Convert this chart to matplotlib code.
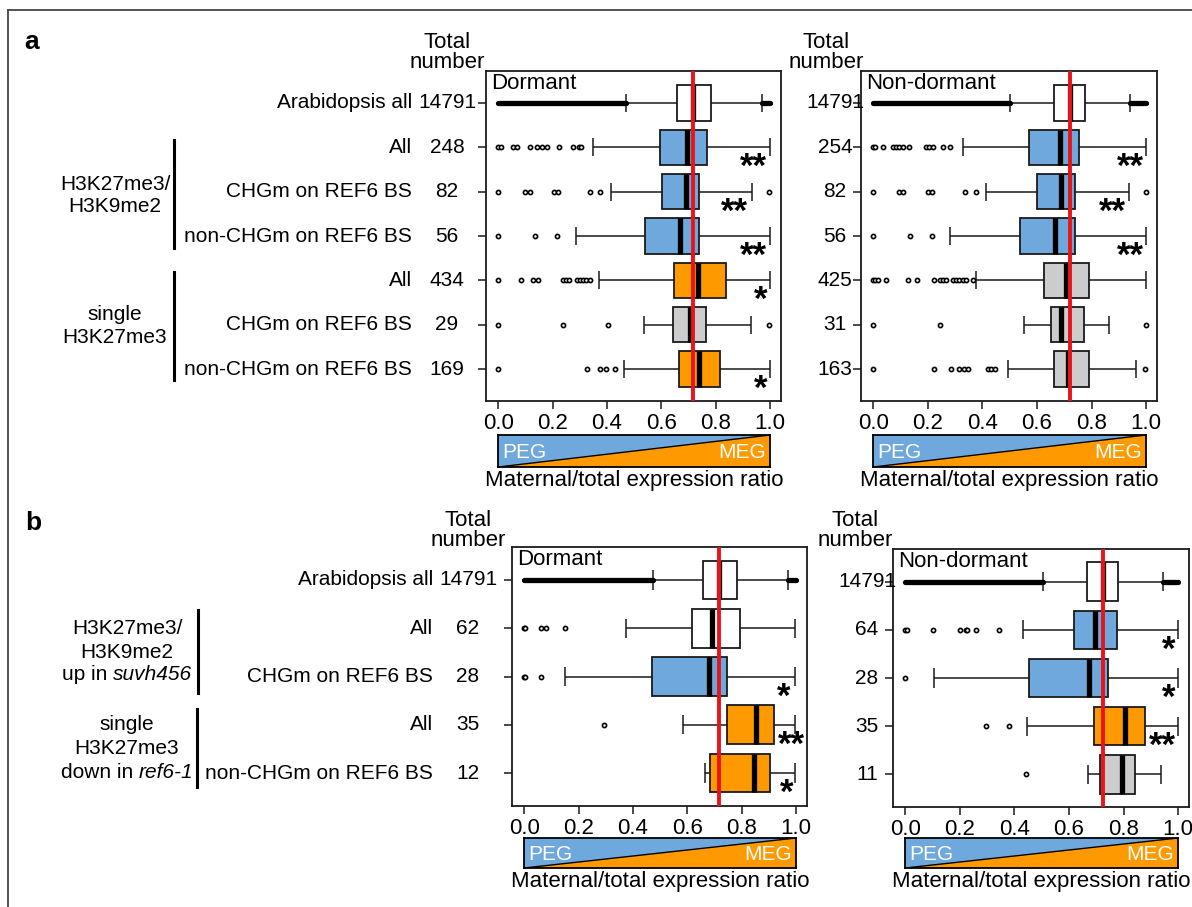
#!/usr/bin/env python
import matplotlib
matplotlib.use('Agg')
import matplotlib.pyplot as plt
import numpy as np
from matplotlib import rcParams
from matplotlib.lines import Line2D
from matplotlib.transforms import blended_transform_factory

rcParams['font.family'] = ['Liberation Sans', 'DejaVu Sans']
rcParams['font.size'] = 15

BLUE = '#6fa8dc'
ORANGE = '#ff9900'
GRAY = '#cccccc'
WHITE = '#ffffff'
RED = '#e8141b'
EDGE = '#1a1a1a'

# ---------------- panel a ----------------
a_labels = ['Arabidopsis all', 'All', 'CHGm on REF6 BS', 'non-CHGm on REF6 BS',
            'All', 'CHGm on REF6 BS', 'non-CHGm on REF6 BS']
a_dorm_n = [14791, 248, 82, 56, 434, 29, 169]
a_nond_n = [14791, 254, 82, 56, 425, 31, 163]

a_dorm_col = [WHITE, BLUE, BLUE, BLUE, ORANGE, GRAY, ORANGE]
a_dorm_q1 = [0.657, 0.596, 0.602, 0.540, 0.645, 0.643, 0.664]
a_dorm_med = [0.716, 0.694, 0.689, 0.667, 0.734, 0.706, 0.740]
a_dorm_q3 = [0.781, 0.769, 0.740, 0.740, 0.838, 0.764, 0.816]
a_dorm_wlo = [0.471, 0.349, 0.413, 0.286, 0.371, 0.535, 0.462]
a_dorm_whi = [0.969, 1.0, 0.935, 1.0, 1.0, 0.928, 1.0]
a_dorm_fliers = [
    [],
    [0.0, 0.01, 0.056, 0.07, 0.117, 0.144, 0.162, 0.178, 0.223, 0.276, 0.297, 0.303],
    [0.0, 0.099, 0.117, 0.205, 0.221, 0.337, 0.374, 0.996],
    [0.0, 0.136, 0.217],
    [0.0, 0.083, 0.127, 0.148, 0.237, 0.249, 0.261, 0.288, 0.30, 0.312, 0.324, 0.337],
    [0.0, 0.239, 0.402, 0.996],
    [0.0, 0.327, 0.376, 0.396, 0.429],
]
a_dorm_dense = [(0.0, 0.471), (0.969, 1.0)]
a_dorm_stars = ['', '**', '**', '**', '*', '', '*']
a_dorm_star_x = [0, 0.94, 0.87, 0.94, 0.967, 0, 0.967]

a_nond_col = [WHITE, BLUE, BLUE, BLUE, GRAY, GRAY, GRAY]
a_nond_q1 = [0.664, 0.571, 0.600, 0.539, 0.625, 0.651, 0.662]
a_nond_med = [0.721, 0.686, 0.689, 0.667, 0.708, 0.688, 0.714]
a_nond_q3 = [0.777, 0.755, 0.740, 0.740, 0.792, 0.772, 0.792]
a_nond_wlo = [0.50, 0.328, 0.412, 0.282, 0.377, 0.551, 0.495]
a_nond_whi = [0.941, 1.0, 0.936, 1.0, 1.0, 0.865, 0.963]
a_nond_fliers = [
    [],
    [0.0, 0.008, 0.034, 0.071, 0.083, 0.096, 0.108, 0.132, 0.194, 0.206, 0.218, 0.255, 0.282],
    [0.0, 0.096, 0.108, 0.20, 0.216, 0.338, 0.375, 0.998],
    [0.0, 0.135, 0.216],
    [0.0, 0.008, 0.016, 0.047, 0.126, 0.159, 0.224, 0.243, 0.255, 0.267, 0.292, 0.304,
     0.316, 0.33, 0.34, 0.365],
    [0.0, 0.243, 0.998],
    [0.0, 0.221, 0.286, 0.316, 0.331, 0.347, 0.42, 0.433, 0.445, 0.996],
]
a_nond_dense = [(0.0, 0.50), (0.941, 1.0)]
a_nond_stars = ['', '**', '**', '**', '', '', '']
a_nond_star_x = [0, 0.941, 0.875, 0.941, 0, 0, 0]

# ---------------- panel b ----------------
b_labels = ['Arabidopsis all', 'All', 'CHGm on REF6 BS', 'All', 'non-CHGm on REF6 BS']
b_dorm_n = [14791, 62, 28, 35, 12]
b_nond_n = [14791, 64, 28, 35, 11]

b_dorm_col = [WHITE, WHITE, BLUE, ORANGE, ORANGE]
b_dorm_q1 = [0.659, 0.617, 0.471, 0.747, 0.685]
b_dorm_med = [0.717, 0.690, 0.678, 0.853, 0.846]
b_dorm_q3 = [0.784, 0.792, 0.744, 0.919, 0.904]
b_dorm_wlo = [0.474, 0.374, 0.149, 0.583, 0.666]
b_dorm_whi = [0.970, 0.996, 0.996, 0.996, 0.996]
b_dorm_fliers = [[], [0.0, 0.004, 0.061, 0.079, 0.149], [0.0, 0.004, 0.061], [0.294], []]
b_dorm_dense = [(0.0, 0.474), (0.970, 1.0)]
b_dorm_stars = ['', '', '*', '**', '*']
b_dorm_star_x = [0, 0, 0.955, 0.982, 0.967]

b_nond_col = [WHITE, BLUE, BLUE, ORANGE, GRAY]
b_nond_q1 = [0.667, 0.617, 0.453, 0.691, 0.715]
b_nond_med = [0.725, 0.697, 0.674, 0.806, 0.794]
b_nond_q3 = [0.779, 0.775, 0.743, 0.877, 0.841]
b_nond_wlo = [0.504, 0.431, 0.106, 0.445, 0.669]
b_nond_whi = [0.945, 0.999, 1.0, 1.0, 0.937]
b_nond_fliers = [[], [0.0, 0.008, 0.103, 0.2, 0.221, 0.227, 0.261, 0.342], [0.0],
                 [0.297, 0.382], [0.443]]
b_nond_dense = [(0.0, 0.504), (0.945, 1.0)]
b_nond_stars = ['', '*', '*', '**', '']
b_nond_star_x = [0, 0.964, 0.964, 0.944, 0]

x_ticks = [0.0, 0.2, 0.4, 0.6, 0.8, 1.0]

W, H = 1192, 907
fig = plt.figure(figsize=(W / 100, H / 100), dpi=100)


def fx(x):
  return x / W


def fy(y):
  return 1 - y / H


def draw_panel(box, title, col, q1, med, q3, wlo, whi, fliers, dense, stars, star_x,
               ylim, bar_px):
  # box = (left, top, right, bottom) in pixels
  l, t, r, b = box
  ax = fig.add_axes([fx(l), fy(b), (r - l) / W, (b - t) / H])
  rows = np.arange(1, len(q1) + 1)
  ax.hlines(rows, wlo, q1, color=EDGE, lw=1.1, zorder=2)
  ax.hlines(rows, q3, whi, color=EDGE, lw=1.1, zorder=2)
  ax.vlines(wlo, rows - 0.2, rows + 0.2, color=EDGE, lw=1.1, zorder=2)
  ax.vlines(whi, rows - 0.2, rows + 0.2, color=EDGE, lw=1.1, zorder=2)
  ax.barh(rows, np.subtract(q3, q1), left=q1, height=0.8, color=col,
          edgecolor=EDGE, linewidth=1.3, zorder=3)
  ax.vlines(med, rows - 0.4, rows + 0.4, color='black', lw=3.8, zorder=4)
  for row, f in zip(rows, fliers):
    if f:
      ax.plot(f, [row] * len(f), 'o', ms=3.0, mfc='white', mec='black', mew=1.2,
              zorder=3)
  for lo, hi in dense:
    ax.hlines(1, lo, hi, color='black', lw=3.8, capstyle='round', zorder=3)
  ax.axvline(med[0], color=RED, lw=2.8, zorder=5)
  for row, s, x in zip(rows, stars, star_x):
    if s:
      ax.annotate(s, xy=(x, row), xytext=(0, -21.5), textcoords='offset points',
                  ha='center', va='baseline', fontsize=25, fontweight='bold', zorder=6)
  ax.set_xlim(-0.045, 1.04)
  ax.set_ylim(ylim)
  ax.set_xticks(x_ticks)
  ax.set_xticklabels(['%.1f' % v for v in x_ticks])
  ax.set_yticks(rows)
  ax.set_yticklabels([])
  ax.tick_params(length=6, width=1.1, pad=2.5, labelsize=16, color=EDGE)
  for s in ax.spines.values():
    s.set_linewidth(1.3)
    s.set_color(EDGE)
  ax.annotate(title, xy=(0, 1), xycoords='axes fraction', xytext=(3.5, -1.5),
              textcoords='offset points', ha='left', va='top', fontsize=16)

  # PEG / MEG bar under the axis
  bt, bb = bar_px
  tr = blended_transform_factory(ax.transData, ax.transAxes)
  y0 = (b - bb) / (b - t)
  hh = (bb - bt) / (b - t)
  bar = ax.inset_axes([0, y0, 1, hh], transform=tr)
  bar.fill([0, 0, 1], [0, 1, 1], color=BLUE, lw=0)
  bar.fill([0, 1, 1], [0, 0, 1], color=ORANGE, lw=0)
  bar.plot([0, 1], [0, 1], color='black', lw=1)
  bar.set_xlim(0, 1)
  bar.set_ylim(0, 1)
  bar.set_xticks([])
  bar.set_yticks([])
  for s in bar.spines.values():
    s.set_linewidth(1.3)
  bar.annotate('PEG', xy=(0, 0.5), xycoords='axes fraction', xytext=(3, -1),
               textcoords='offset points', ha='left', va='center', color='white',
               fontsize=15)
  bar.annotate('MEG', xy=(1, 0.5), xycoords='axes fraction', xytext=(-3, -1),
               textcoords='offset points', ha='right', va='center', color='white',
               fontsize=15)
  bar.annotate('Maternal/total expression ratio', xy=(0.5, 0), xycoords='axes fraction',
               xytext=(0, -2.5), textcoords='offset points', ha='center', va='top',
               fontsize=16)
  return ax


def row_labels(ax, labels, ns, lab_x, num_x):
  tr = blended_transform_factory(fig.transFigure, ax.transData)
  for i, n in enumerate(ns):
    if labels is not None:
      ax.text(fx(lab_x), i + 1, labels[i], transform=tr, ha='right', va='center')
    ax.text(fx(num_x), i + 1, str(n), transform=tr, ha='center', va='center')


def total_header(xc, y1, y2):
  fig.text(fx(xc), fy(y1), 'Total', ha='center', va='center', fontsize=16)
  fig.text(fx(xc), fy(y2), 'number', ha='center', va='center', fontsize=16)


def vbar(x, y1, y2):
  fig.add_artist(Line2D([fx(x), fx(x)], [fy(y1), fy(y2)], color='black', lw=2.2))


def mixed_line(xc, y, plain, ital):
  r = fig.canvas.get_renderer()
  t1 = fig.text(0, fy(y), plain, ha='left', va='center')
  t2 = fig.text(0, fy(y), ital, ha='left', va='center', style='italic')
  w1 = t1.get_window_extent(r).width
  w2 = t2.get_window_extent(r).width
  gap = 5.5
  x0 = xc - (w1 + gap + w2) / 2
  t1.set_x(fx(x0))
  t2.set_x(fx(x0 + w1 + gap))


# panel a
ax_ad = draw_panel((486, 71, 781, 401), 'Dormant', a_dorm_col, a_dorm_q1, a_dorm_med,
                   a_dorm_q3, a_dorm_wlo, a_dorm_whi, a_dorm_fliers, a_dorm_dense,
                   a_dorm_stars, a_dorm_star_x, (7.72, 0.28), (435, 467))
ax_an = draw_panel((861, 71, 1157, 401), 'Non-dormant', a_nond_col, a_nond_q1, a_nond_med,
                   a_nond_q3, a_nond_wlo, a_nond_whi, a_nond_fliers, a_nond_dense,
                   a_nond_stars, a_nond_star_x, (7.72, 0.28), (435, 467))
row_labels(ax_ad, a_labels, a_dorm_n, 412, 447)
row_labels(ax_an, None, a_nond_n, 0, 835)
total_header(447, 43, 63)
total_header(826, 43, 63)

fig.text(fx(115), fy(185), 'H3K27me3/', ha='center', va='center')
fig.text(fx(115), fy(207), 'H3K9me2', ha='center', va='center')
fig.text(fx(115), fy(315), 'single', ha='center', va='center')
fig.text(fx(115), fy(338), 'H3K27me3', ha='center', va='center')
vbar(174, 140, 248)
vbar(174, 272, 380)

# panel b
ax_bd = draw_panel((512, 547, 807, 806), 'Dormant', b_dorm_col, b_dorm_q1, b_dorm_med,
                   b_dorm_q3, b_dorm_wlo, b_dorm_whi, b_dorm_fliers, b_dorm_dense,
                   b_dorm_stars, b_dorm_star_x, (5.68, 0.32), (838, 868))
ax_bn = draw_panel((893, 549, 1189, 807), 'Non-dormant', b_nond_col, b_nond_q1, b_nond_med,
                   b_nond_q3, b_nond_wlo, b_nond_whi, b_nond_fliers, b_nond_dense,
                   b_nond_stars, b_nond_star_x, (5.68, 0.32), (838, 868))
row_labels(ax_bd, b_labels, b_dorm_n, 433, 468)
row_labels(ax_bn, None, b_nond_n, 0, 867)
total_header(468, 520, 541)
total_header(855, 520, 541)

fig.text(fx(127), fy(628), 'H3K27me3/', ha='center', va='center')
fig.text(fx(127), fy(652), 'H3K9me2', ha='center', va='center')
mixed_line(127, 675, 'up in', 'suvh456')
fig.text(fx(127), fy(725), 'single', ha='center', va='center')
fig.text(fx(127), fy(749), 'H3K27me3', ha='center', va='center')
mixed_line(127, 772, 'down in', 'ref6-1')
vbar(198, 610, 693)
vbar(197, 709, 787)

# panel letters
fig.text(fx(32), fy(42), 'a', ha='center', va='center', fontsize=19, fontweight='bold')
fig.text(fx(33), fy(523), 'b', ha='center', va='center', fontsize=19, fontweight='bold')

# outer frame (left and top edges only are inside the picture)
fig.add_artist(Line2D([fx(8), 1], [fy(10), fy(10)], color='#444444', lw=1.3))
fig.add_artist(Line2D([fx(8), fx(8)], [0, fy(10)], color='#444444', lw=1.3))

plt.savefig('out.png', dpi=100)
